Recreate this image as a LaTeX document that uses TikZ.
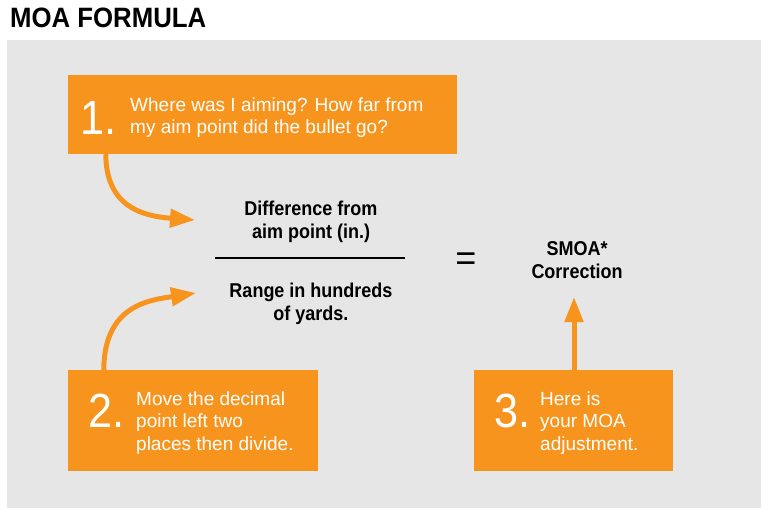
\documentclass[tikz,border=0pt]{standalone}
\usepackage{fontspec}
\setmainfont{Liberation Sans}
\newfontfamily\titlefont[FakeStretch=0.92]{Liberation Sans}
\newfontfamily\condfont[FakeStretch=0.9]{Liberation Sans}
\newfontfamily\numfont[FakeStretch=0.9]{Liberation Sans}
\usepackage{tikz}
\usetikzlibrary{arrows.meta}
\definecolor{moaorange}{HTML}{F7941D}
\definecolor{moagray}{HTML}{E6E6E6}
\tikzstyle{stepbox} = [fill=moaorange, inner sep=0pt]
\tikzstyle{arrow} = [line width=5pt, draw=moaorange, -{Triangle[length=25pt,width=18pt]}]
\tikzstyle{stepnum} = [text=white, inner sep=0pt, anchor=base east, font=\numfont\fontsize{48}{48}\selectfont]
\tikzstyle{steptext} = [text=white, inner sep=0pt, anchor=base west, font=\fontsize{19}{22.5}\selectfont]
\tikzstyle{formula} = [inner sep=0pt, anchor=base, font=\condfont\bfseries\fontsize{20}{23}\selectfont]

\begin{document}
\begin{tikzpicture}[x=1pt,y=-1pt]
\useasboundingbox (0,0) rectangle (770,519);
\fill[moagray] (7,40) rectangle (761,508);

\node[anchor=base west, inner sep=0pt, font=\titlefont\bfseries\fontsize{28}{28}\selectfont] (title) at (10,28) {MOA FORMULA};

% the three steps
\node[stepbox, minimum width=389pt, minimum height=79pt] (step1) at (262.5,114.5) {};
\node[stepnum] (num1) at (117,134) {1.};
\node[steptext] (txt1) at (130,111) {\begin{tabular}[t]{@{}l@{}}Where was I aiming? How far from\\my aim point did the bullet go?\end{tabular}};

\node[stepbox, minimum width=250pt, minimum height=101pt] (step2) at (193,420.5) {};
\node[stepnum] (num2) at (125,427) {2.};
\node[steptext] (txt2) at (136,405) {\begin{tabular}[t]{@{}l@{}}Move the decimal\\point left two\\places then divide.\end{tabular}};

\node[stepbox, minimum width=199pt, minimum height=101pt] (step3) at (573.5,420.5) {};
\node[stepnum] (num3) at (531,427) {3.};
\node[steptext] (txt3) at (540,405) {\begin{tabular}[t]{@{}l@{}}Here is\\your MOA\\adjustment.\end{tabular}};

% formula
\node[formula] (diff) at (311,215) {\begin{tabular}[t]{@{}c@{}}Difference from\\aim point (in.)\end{tabular}};
\draw[line width=2pt] (215,258) -- (405,258);
\node[formula] (range) at (311,297) {\begin{tabular}[t]{@{}c@{}}Range in hundreds\\of yards.\end{tabular}};
\node[inner sep=0pt, font=\fontsize{36}{36}\selectfont] (eq) at (466,262) {=};
\node[formula] (smoa) at (577,255) {\begin{tabular}[t]{@{}c@{}}SMOA*\\Correction\end{tabular}};

% arrows
\coordinate (tip1) at (195,220);
\coordinate (tip2) at (196,293);
\coordinate (tip3) at (574,297);
\draw[arrow] ([xshift=38pt]step1.south west) .. controls (106,205) and (140,216) .. (tip1);
\draw[arrow] ([xshift=36pt]step2.north west) .. controls (104,305) and (150,300) .. (tip2);
\draw[arrow] (step3.north -| tip3) -- (tip3);
\end{tikzpicture}
\end{document}
